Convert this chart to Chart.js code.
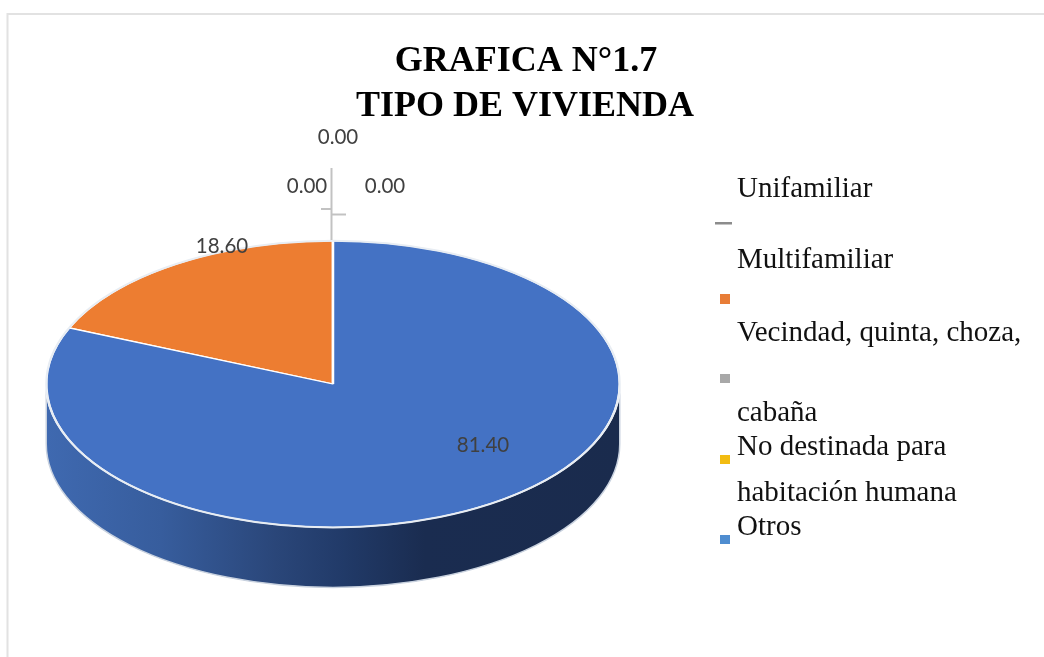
<!DOCTYPE html>
<html>
<head>
<meta charset="utf-8">
<style>
html,body{margin:0;padding:0;background:#fff;}
canvas{display:block;}
</style>
<script src="https://cdn.jsdelivr.net/npm/chart.js@4"></script>
</head>
<body>
<canvas id="c" width="1044" height="657"></canvas>
<script>
const categories = ["Unifamiliar", "Multifamiliar", "Vecindad, quinta, choza, cabaña", "No destinada para habitación humana", "Otros"];
const values = [0, 18.60, 0, 0, 81.40];
const sliceColors = ["#8c8c8c", "#ed7d31", "#a5a5a5", "#ffc000", "#4472c4"];
const titleLines = ["GRAFICA N°1.7", "TIPO DE VIVIENDA"];
const legendMarkerColors = ["#8c8c8c", "#e87d37", "#a8a8a8", "#f2bc12", "#4f8dd0"];

const SQUASH = 0.5, DEPTH = 60, TOP_CY = 384;
const total = values.reduce((a, b) => a + b, 0);
const rotation = -360 * values[1] / total;

// label anchor per slice, in page pixels
const labelAnchors = [[338, 137], [222, 246], [307, 186], [385, 186], [483, 445]];

// legend text runs: [text, x, baseline]
const legendRuns = [
  ["Unifamiliar", 737, 197],
  ["Multifamiliar", 737, 268],
  ["Vecindad, quinta, choza,", 737, 341],
  ["cabaña", 737, 421],
  ["No destinada para", 737, 455],
  ["habitación humana", 737, 501],
  ["Otros", 737, 535]
];
const legendMarkers = [[715, 222, 17, 2.5], [720, 294, 10, 10], [720, 374, 10, 9], [720, 455, 10, 9], [720, 535, 10, 9]];

const pie3d = {
  id: "pie3d",
  beforeDraw(chart) {
    const c = chart.ctx;
    c.save();
    c.strokeStyle = "#e2e2e2";
    c.lineWidth = 2;
    c.beginPath();
    c.moveTo(7.5, 657);
    c.lineTo(7.5, 14);
    c.lineTo(1044, 14);
    c.stroke();
    c.restore();
  },
  beforeDatasetsDraw(chart) {
    const c = chart.ctx;
    const arc = chart.getDatasetMeta(0).data[4];
    const cx = arc.x, cy = arc.y, rx = arc.outerRadius, ry = rx * SQUASH;
    // rim
    const g = c.createLinearGradient(cx - rx, 0, cx + rx, 0);
    g.addColorStop(0, "#3f69b0");
    g.addColorStop(0.2, "#375d9d");
    g.addColorStop(0.4, "#2a4679");
    g.addColorStop(0.52, "#213a68");
    g.addColorStop(0.66, "#1a2c50");
    g.addColorStop(1, "#1a2b4d");
    c.save();
    c.beginPath();
    c.ellipse(cx, TOP_CY, rx, ry, 0, 0, Math.PI);
    c.lineTo(cx - rx, TOP_CY + DEPTH);
    c.ellipse(cx, TOP_CY + DEPTH, rx, ry, 0, Math.PI, 0, true);
    c.closePath();
    c.fillStyle = g;
    c.fill();
    c.strokeStyle = "#c9d2df";
    c.lineWidth = 1.5;
    c.beginPath();
    c.moveTo(cx + rx, TOP_CY);
    c.lineTo(cx + rx, TOP_CY + DEPTH);
    c.ellipse(cx, TOP_CY + DEPTH, rx, ry, 0, 0, Math.PI);
    c.lineTo(cx - rx, TOP_CY);
    c.stroke();
    c.restore();
    // flatten the library's arcs
    c.save();
    c.translate(0, TOP_CY);
    c.scale(1, SQUASH);
    c.translate(0, -cy);
  },
  afterDatasetsDraw(chart) {
    const c = chart.ctx;
    const arc = chart.getDatasetMeta(0).data[4];
    c.restore();
    // outline of the flattened top
    c.save();
    c.strokeStyle = "#e8edf3";
    c.lineWidth = 2;
    c.beginPath();
    c.ellipse(arc.x, TOP_CY, arc.outerRadius, arc.outerRadius * SQUASH, 0, 0, Math.PI * 2);
    c.stroke();
    // leader lines of the empty slices
    c.strokeStyle = "#c2c2c2";
    c.lineWidth = 2;
    [[331.5, 168, 331.5, 240], [321, 209, 332, 209], [332, 214.5, 346, 214.5]].forEach(s => {
      c.beginPath();
      c.moveTo(s[0], s[1]);
      c.lineTo(s[2], s[3]);
      c.stroke();
    });
    // data labels
    c.fillStyle = "#404040";
    c.font = '20.5px Lato, "Open Sans", sans-serif';
    c.textAlign = "center";
    c.textBaseline = "middle";
    values.forEach((v, i) => {
      c.fillText(v.toFixed(2), labelAnchors[i][0], labelAnchors[i][1]);
    });
    // title
    c.fillStyle = "#000";
    c.font = 'bold 36px "Liberation Serif", serif';
    c.textBaseline = "alphabetic";
    c.fillText(titleLines[0], 526, 71);
    c.fillText(titleLines[1], 525, 116);
    // legend
    c.textAlign = "left";
    c.fillStyle = "#111";
    c.font = '29px "Liberation Serif", serif';
    legendRuns.forEach(r => c.fillText(r[0], r[1], r[2]));
    legendMarkers.forEach((m, i) => {
      c.fillStyle = legendMarkerColors[i];
      c.fillRect(m[0], m[1], m[2], m[3]);
    });
    c.restore();
  }
};

new Chart(document.getElementById("c"), {
  type: "pie",
  data: {
    labels: categories,
    datasets: [{
      data: values,
      backgroundColor: sliceColors,
      borderColor: "#ffffff",
      borderWidth: 2.5,
      hoverOffset: 0,
      clip: false
    }]
  },
  options: {
    responsive: false,
    animation: false,
    rotation: rotation,
    layout: { padding: { left: 45, right: 423, top: 40, bottom: 41 } },
    plugins: { legend: { display: false }, title: { display: false }, tooltip: { enabled: false } },
    events: []
  },
  plugins: [pie3d]
});
</script>
</body>
</html>
